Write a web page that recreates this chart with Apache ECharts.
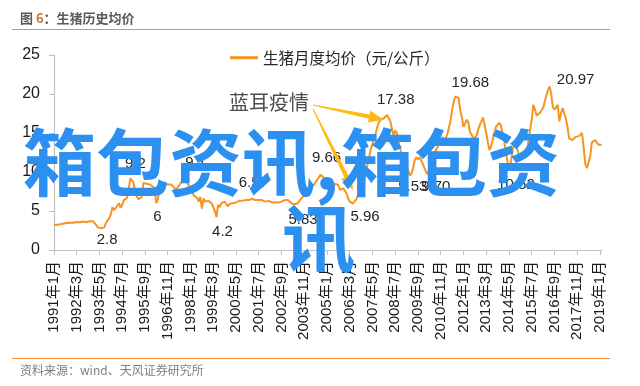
<!DOCTYPE html>
<html><head><meta charset="utf-8">
<script src="https://cdn.jsdelivr.net/npm/echarts@6/dist/echarts.min.js"></script>
<style>html,body{margin:0;padding:0;background:#fff}#c{width:640px;height:386px}</style>
</head><body><div id="c"></div>
<script>
// monthly average live-hog price, yuan/kg, 1991-01 .. 2019-02
const p1991_1995 = [
3.2,3.2,3.25,3.3,3.3,3.35,3.4,3.4,3.45,3.5,3.5,3.55,
3.5,3.55,3.6,3.6,3.55,3.6,3.65,3.6,3.55,3.6,3.7,3.75,
3.7,3.5,3.2,2.9,2.8,2.8,2.8,2.9,3.5,3.8,4.1,4.6,
5.5,5.1,5.3,5.7,6.0,5.4,5.8,6.4,6.2,6.7,8.0,9.2,
9.1,8.6,7.3,6.9,6.5,6.4,6.8,8.6,8.6,8.5,8.6,8.4];
const p1996_2000 = [
8.3,8.1,7.5,6.0,6.6,8.1,8.5,8.6,8.5,8.6,8.4,8.5,
8.4,8.3,8.0,7.7,7.8,8.3,8.6,8.9,9.0,9.1,8.6,8.4,
8.0,7.4,7.0,6.9,6.7,6.2,6.8,5.3,6.6,6.2,6.4,6.3,
6.4,6.0,5.5,5.0,4.2,5.8,5.5,6.0,5.8,6.2,5.9,5.6,
5.9,6.1,6.0,6.2,6.1,6.2,6.3,6.2,6.3,6.4,6.4,6.5];
const p2001_2005 = [
6.4,6.5,6.57,6.5,6.4,6.3,6.4,6.5,6.4,6.3,6.2,6.3,
6.3,6.2,6.1,6.0,6.1,6.2,6.1,6.0,6.2,6.3,6.4,6.3,
6.4,6.2,6.0,5.9,5.85,5.83,6.0,6.3,6.5,6.8,7.0,7.2,
7.3,7.7,8.0,8.1,8.4,8.7,8.9,9.3,9.66,9.5,9.3,9.0,
9.0,8.8,8.5,8.3,8.2,8.5,8.4,8.3,7.7,7.6,7.9,7.8];
const p2006_2010 = [
7.3,6.6,6.2,6.0,5.96,6.1,6.5,7.0,7.3,7.7,8.2,9.0,
10.0,11.0,12.0,13.0,13.6,14.3,15.0,15.8,16.4,16.7,16.8,16.9,
17.0,17.3,17.38,16.5,15.5,14.7,15.3,15.0,13.8,13.0,12.2,11.7,
12.0,11.0,10.2,9.53,9.8,10.5,11.5,11.9,11.6,11.9,11.5,11.0,
10.5,10.0,9.70,10.3,11.5,12.0,12.5,12.8,13.2,13.7,14.0,14.5];
const p2011_2015 = [
14.0,14.3,14.8,15.6,16.6,17.9,19.0,19.68,19.5,19.5,17.9,17.0,
15.8,16.2,16.7,16.4,15.1,14.8,14.3,14.1,14.6,15.4,16.0,16.5,
17.0,16.0,15.0,13.8,12.8,13.3,14.1,15.0,15.8,16.0,16.3,16.0,
15.0,14.1,12.6,11.4,10.52,11.0,12.4,13.7,13.4,12.9,12.3,11.9,
12.3,11.9,11.7,12.6,14.0,15.4,16.7,18.6,18.0,17.2,17.0,17.6];
const p2016_2019 = [
17.8,18.2,19.0,19.8,20.5,20.97,20.0,18.3,18.0,18.3,18.6,16.5,
17.5,18.2,17.5,16.9,15.8,14.3,14.2,14.1,14.2,14.5,14.4,14.6,
14.8,15.0,13.0,11.0,10.5,10.6,12.0,13.8,14.0,14.1,13.8,13.5,
13.5,13.5];
const prices = [].concat(p1991_1995, p1996_2000, p2001_2005, p2006_2010, p2011_2015, p2016_2019);

const startYear = 1991;
const months = prices.map((_, i) => (startYear + Math.floor(i / 12)) + '年' + (i % 12 + 1) + '月');

// annotated extremes (index into months, label text)
const annIdx  = [29, 47, 63, 81, 100, 122, 149, 164, 184, 206, 219, 230, 247, 280, 305];
const annText = ['2.8','9.2','6','9.1','4.2','6.57','5.83','9.66','5.96','17.38','9.53','9.70','19.68','10.52','20.97'];
const annOff  = [[6,12],[5,-14],[1,14],[10,-16],[6,15],[1,-16],[7,15],[6,-17],[12,13],[7,-15],[3,11],[8,13],[15,-14],[7,17],[26,-7]];

const seriesName = '生猪月度均价（元/公斤）';
const yTicks = [0, 5, 10, 15, 20, 25];

const chart = echarts.init(document.getElementById('c'), null, {renderer: 'canvas'});
const FONT = '"Liberation Sans", Arial, "Noto Sans CJK SC", sans-serif';
chart.setOption({
  animation: false,
  textStyle: {fontFamily: FONT},
  grid: {left: 54, right: 38.4, top: 55, bottom: 136},
  legend: {
    data: [seriesName], left: 225, top: 45, icon: 'rect', itemWidth: 28, itemHeight: 3, itemGap: 5,
    textStyle: {fontSize: 15.5, color: '#262626', fontFamily: '"Noto Sans CJK SC", sans-serif'}
  },
  xAxis: {
    type: 'category', data: months, boundaryGap: false,
    axisLine: {lineStyle: {color: '#BFBFBF', width: 1.2}},
    axisTick: {interval: 13, length: 5, lineStyle: {color: '#BFBFBF'}},
    axisLabel: {interval: 13, rotate: 90, fontSize: 15, color: '#1a1a1a', margin: 11}
  },
  yAxis: {
    type: 'value', min: yTicks[0], max: yTicks[yTicks.length - 1], interval: 5,
    splitLine: {show: false},
    axisLine: {show: true, lineStyle: {color: '#BFBFBF', width: 1.2}},
    axisTick: {show: true, length: 5, lineStyle: {color: '#BFBFBF'}},
    axisLabel: {fontSize: 16, color: '#1a1a1a', margin: 14}
  },
  series: [{
    name: seriesName, type: 'line', data: prices, symbol: 'none',
    lineStyle: {color: '#F7941D', width: 2}, itemStyle: {color: '#F7941D'},
    markPoint: {
      symbol: 'circle', symbolSize: 0,
      data: annIdx.map((ix, k) => ({
        coord: [ix, prices[ix]], value: annText[k],
        label: {show: true, position: 'inside', formatter: annText[k], offset: annOff[k],
                fontSize: 15, color: '#262626', fontFamily: FONT}
      }))
    }
  }]
});

// annotation arrows pointing to data locations
function arrow(tail, tip, color) {
  const dx = tip[0] - tail[0], dy = tip[1] - tail[1];
  const L = Math.hypot(dx, dy), ux = dx / L, uy = dy / L, nx = -uy, ny = ux;
  const hl = 15, base = [tip[0] - ux * hl, tip[1] - uy * hl];
  const pts = [
    [tail[0] + nx * 0.6, tail[1] + ny * 0.6],
    [base[0] + nx * 2.2, base[1] + ny * 2.2],
    [base[0] + nx * 6, base[1] + ny * 6],
    tip,
    [base[0] - nx * 6, base[1] - ny * 6],
    [base[0] - nx * 2.2, base[1] - ny * 2.2],
    [tail[0] - nx * 0.6, tail[1] - ny * 0.6]
  ];
  return {type: 'polygon', shape: {points: pts}, style: {fill: color}, z: 50};
}
const tip1 = chart.convertToPixel({seriesIndex: 0}, [203, 16.7]);
const tip2 = chart.convertToPixel({seriesIndex: 0}, [184, 7.7]);

const WM = 'bold 73px "Noto Sans CJK SC", sans-serif';
const WMC = '#2B90F0';
chart.setOption({
  graphic: [
    {type: 'text', x: 20, y: 12, z: 60, style: {
      text: '{a|图 }{b|6}{a|：生猪历史均价}',
      rich: {a: {font: 'bold 13px "Noto Sans CJK SC", sans-serif', fill: '#595959'},
             b: {font: 'bold 13px "Noto Sans CJK SC", sans-serif', fill: '#C8783C'}}}},
    {type: 'line', shape: {x1: 12, y1: 29.5, x2: 610, y2: 29.5}, style: {stroke: '#F08C3C', lineWidth: 1.2}, z: 60},
    {type: 'line', shape: {x1: 12, y1: 358.5, x2: 610, y2: 358.5}, style: {stroke: '#F08C3C', lineWidth: 1.2}, z: 60},
    {type: 'text', x: 20, y: 364, z: 60, style: {text: '资料来源：wind、天风证券研究所',
      font: '12px "Noto Sans CJK SC", sans-serif', fill: '#7F7F7F'}},
    {type: 'text', x: 229, y: 92, z: 55, style: {text: '蓝耳疫情', font: '20px "Noto Sans CJK SC", sans-serif', fill: '#4D4D4D'}},
    arrow([313, 105], tip1, '#FFB915'),
    arrow([313, 109], tip2, '#FFB915'),
    {type: 'text', x: 23, y: 126, z: 100, style: {text: '箱包资讯,', font: WM, fill: WMC}},
    {type: 'text', x: 341, y: 126, z: 100, style: {text: '箱包资', font: WM, fill: WMC}},
    {type: 'text', x: 282, y: 202, z: 100, style: {text: '讯', font: WM, fill: WMC}}
  ]
});
</script></body></html>
